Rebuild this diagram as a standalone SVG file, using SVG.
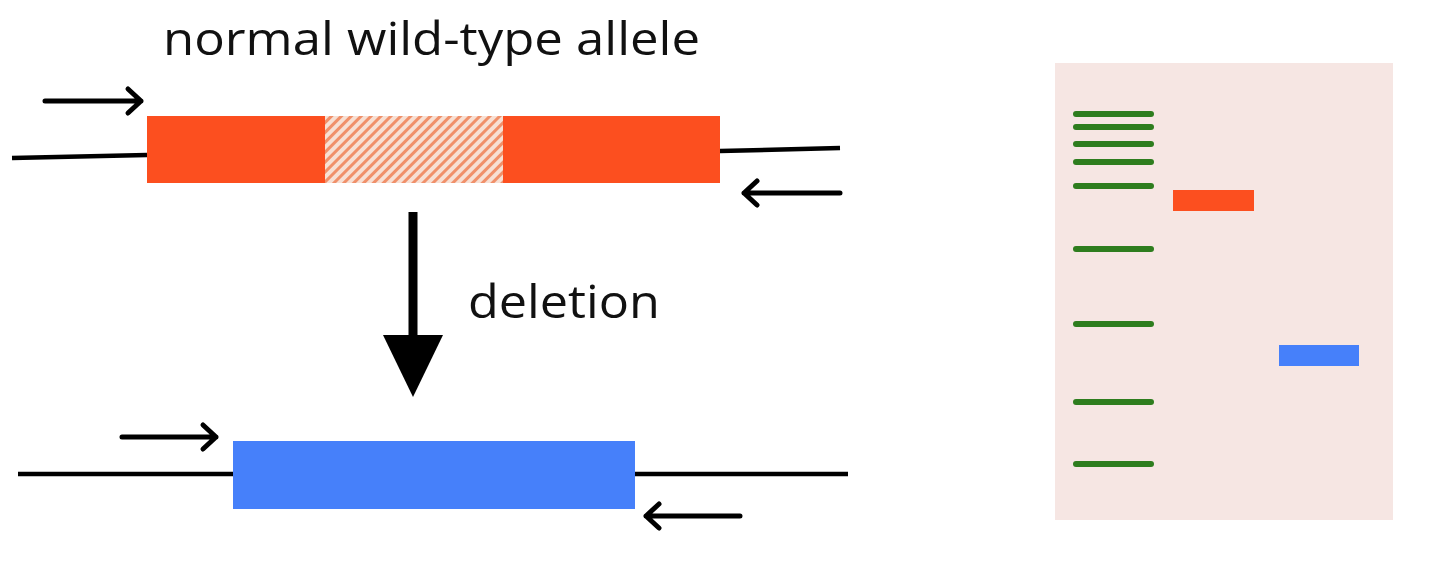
<svg xmlns="http://www.w3.org/2000/svg" width="1440" height="573" viewBox="0 0 1440 573">
<defs>
<style>
.t{font-family:"Open Sans","Liberation Sans",sans-serif;font-size:46px;fill:#111}
.ln{stroke:#000;stroke-width:4.5;fill:none}
.ar{stroke:#000;stroke-width:5;fill:none;stroke-linecap:round;stroke-linejoin:round}
.band{stroke:#2e7d1e;stroke-width:6;stroke-linecap:round}
</style>
<pattern id="hatch" width="7" height="7" patternUnits="userSpaceOnUse" patternTransform="rotate(45)">
<rect width="7" height="7" fill="#f7e0d4"/>
<rect width="3" height="7" fill="#f0906a"/>
</pattern>
</defs>
<rect width="1440" height="573" fill="#fff"/>
<text class="t" x="163" y="55" textLength="537" lengthAdjust="spacingAndGlyphs">normal wild-type allele</text>
<text class="t" x="468" y="318" textLength="192" lengthAdjust="spacingAndGlyphs">deletion</text>
<g id="connectors">
<line class="ln" x1="12" y1="158" x2="147" y2="155"/>
<line class="ln" x1="720" y1="151" x2="840" y2="148"/>
<line class="ln" x1="18" y1="474" x2="233" y2="474"/>
<line class="ln" x1="635" y1="474" x2="848" y2="474"/>
<path class="ar" d="M45 101 H141 M128 89 L141 101 L128 113"/>
<path class="ar" d="M840 193 H744 M757 181 L744 193 L757 205"/>
<path class="ar" d="M122 437 H216 M203 425 L216 437 L203 449"/>
<path class="ar" d="M740 516 H646 M659 504 L646 516 L659 528"/>
<line x1="413" y1="212" x2="413" y2="338" stroke="#000" stroke-width="9"/>
<polygon points="383,335 443,335 413,397" fill="#000"/>
</g>
<g id="wildtype">
<rect x="147" y="116" width="178" height="67" fill="#fc4f1f"/>
<rect x="325" y="116" width="178" height="67" fill="url(#hatch)"/>
<rect x="503" y="116" width="217" height="67" fill="#fc4f1f"/>
</g>
<g id="deletion-allele">
<rect x="233" y="441" width="402" height="68" fill="#4680fa"/>
</g>
<g id="gel">
<rect x="1055" y="63" width="338" height="457" fill="#f6e6e3"/>
<g class="band">
<line x1="1076" y1="114" x2="1151" y2="114"/>
<line x1="1076" y1="127" x2="1151" y2="127"/>
<line x1="1076" y1="144" x2="1151" y2="144"/>
<line x1="1076" y1="162" x2="1151" y2="162"/>
<line x1="1076" y1="186" x2="1151" y2="186"/>
<line x1="1076" y1="249" x2="1151" y2="249"/>
<line x1="1076" y1="324" x2="1151" y2="324"/>
<line x1="1076" y1="402" x2="1151" y2="402"/>
<line x1="1076" y1="464" x2="1151" y2="464"/>
</g>
<rect x="1173" y="190" width="81" height="21" fill="#fc4f1f"/>
<rect x="1279" y="345" width="80" height="21" fill="#4680fa"/>
</g>
</svg>
